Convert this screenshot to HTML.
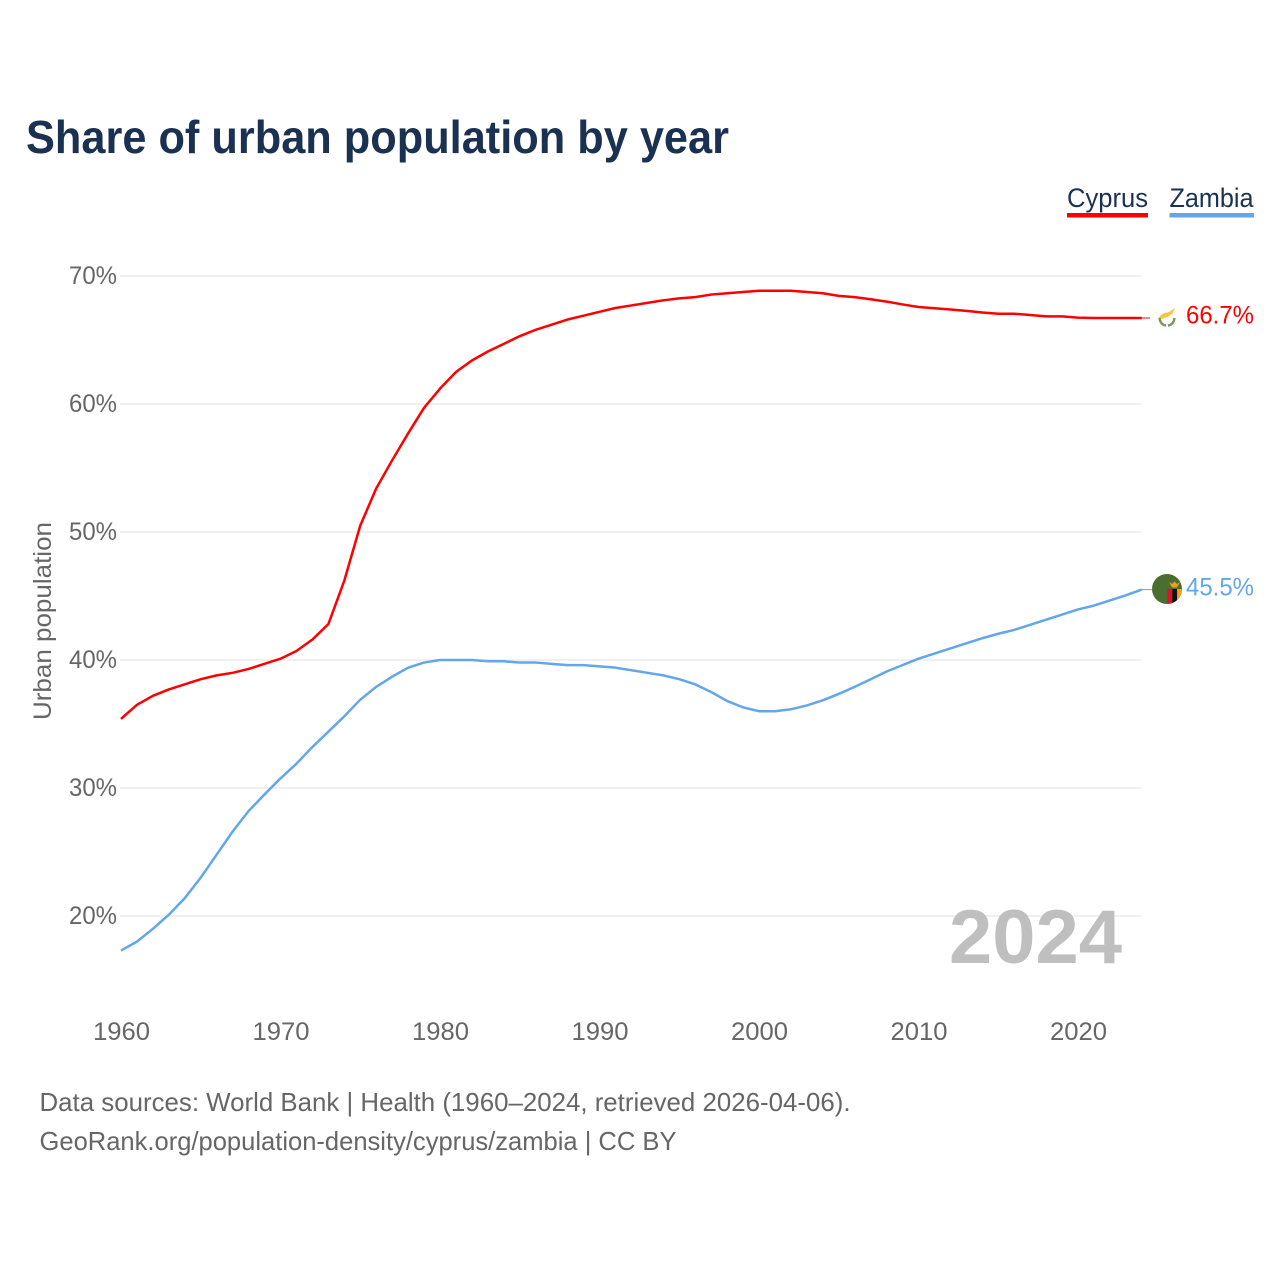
<!DOCTYPE html>
<html lang="en">
<head>
<meta charset="utf-8">
<title>Share of urban population by year</title>
<style>
html,body{margin:0;padding:0;background:#fff;}
svg{display:block;font-family:"Liberation Sans",sans-serif;}
</style>
</head>
<body>
<svg id="chart" width="1280" height="1280" viewBox="0 0 1280 1280" xmlns="http://www.w3.org/2000/svg">
  <rect x="0" y="0" width="1280" height="1280" fill="#ffffff"/>
  <text x="26" y="153" font-size="46" font-weight="700" fill="#1a3152" textLength="703" lengthAdjust="spacingAndGlyphs">Share of urban population by year</text>

  <g>
    <text x="1067" y="207" font-size="27" fill="#1a3152" textLength="81" lengthAdjust="spacingAndGlyphs">Cyprus</text>
    <rect x="1067" y="213" width="81" height="4.5" fill="#ff0000"/>
  </g>
  <g>
    <text x="1169.500" y="207" font-size="27" fill="#1a3152" textLength="84" lengthAdjust="spacingAndGlyphs">Zambia</text>
    <rect x="1169.500" y="213" width="84.500" height="4.5" fill="#62a6ec"/>
  </g>

  <g id="grid"></g>
  <g id="y-ticks"></g>
  <g id="x-ticks"></g>
  <text transform="translate(51,720) rotate(-90)" x="0" y="0" font-size="25" fill="#666666" textLength="198" lengthAdjust="spacingAndGlyphs">Urban population</text>

  <text x="949" y="963" font-size="76" font-weight="700" fill="#bfbfbf" textLength="173" lengthAdjust="spacingAndGlyphs">2024</text>

  <g id="series"></g>

  <defs>
    <clipPath id="zambia-clip"><circle cx="1167" cy="589" r="15"/></clipPath>
  </defs>

  <g>
    <circle cx="1167" cy="317" r="15" fill="#fdfdfd"/>
    <path d="M1158.500 317.500 L1163 313.500 L1169 312 L1175 308 L1172.500 313.500 L1167.500 317 L1162 319 Z" fill="#f6c445"/>
    <path d="M1159.500 318 Q1160.500 325 1166 325.500" fill="none" stroke="#7b9558" stroke-width="2.400"/>
    <path d="M1174.500 318 Q1173.500 325 1168 325.500" fill="none" stroke="#7b9558" stroke-width="2.400"/>
  </g>

  <g clip-path="url(#zambia-clip)">
    <rect x="1150" y="572" width="34" height="34" fill="#4a6e30"/>
    <rect x="1167.300" y="589" width="5" height="17" fill="#d8152f"/>
    <rect x="1172.300" y="589" width="4.800" height="17" fill="#111111"/>
    <rect x="1177.100" y="589" width="5.500" height="17" fill="#f39a24"/>
    <path d="M1169 582 L1172 584 L1174.500 581.500 L1177 584 L1180 582 L1177 587.500 L1172 587.500 Z" fill="#f39a24"/>
  </g>

  <text id="value-label-cyprus" x="1186" y="323.500" font-size="25" fill="#ff0000" textLength="68" lengthAdjust="spacingAndGlyphs"></text>
  <text id="value-label-zambia" x="1186" y="595.500" font-size="25" fill="#62a6ec" textLength="68" lengthAdjust="spacingAndGlyphs"></text>

  <text x="39.500" y="1111" font-size="26" fill="#666666" textLength="811" lengthAdjust="spacingAndGlyphs">Data sources: World Bank | Health (1960–2024, retrieved 2026-04-06).</text>
  <a><text x="39.500" y="1150" font-size="26" fill="#666666" textLength="637" lengthAdjust="spacingAndGlyphs">GeoRank.org/population-density/cyprus/zambia | CC BY</text></a>
</svg>

<script>
var years = [];
var startYear = 1960;
var endYear = 2024;
var cyprusValues = [35.4,36.5,37.2,37.7,38.1,38.5,38.8,39.0,39.3,39.7,40.1,40.7,41.6,42.8,46.2,50.5,53.4,55.6,57.7,59.7,61.2,62.5,63.4,64.1,64.7,65.3,65.8,66.2,66.6,66.9,67.2,67.5,67.7,67.9,68.1,68.25,68.35,68.55,68.65,68.75,68.85,68.85,68.85,68.75,68.65,68.45,68.35,68.18,68.0,67.78,67.58,67.48,67.38,67.28,67.15,67.05,67.05,66.95,66.85,66.85,66.75,66.72,66.72,66.72,66.72];
var zambiaValues = [17.3,18.0,19.0,20.1,21.4,23.0,24.8,26.6,28.2,29.5,30.75,31.9,33.2,34.4,35.6,36.9,37.9,38.7,39.4,39.8,40.0,40.0,40.0,39.9,39.9,39.8,39.8,39.7,39.6,39.6,39.5,39.4,39.2,39.0,38.8,38.5,38.1,37.5,36.8,36.3,36.0,36.0,36.15,36.45,36.85,37.35,37.9,38.5,39.1,39.6,40.1,40.5,40.9,41.3,41.7,42.05,42.35,42.75,43.15,43.55,43.95,44.25,44.65,45.05,45.5];
var yTickValues = [20,30,40,50,60,70];
var xTickValues = [1960,1970,1980,1990,2000,2010,2020];
var cyprusLatest = 66.7;
var zambiaLatest = 45.5;

for (var yr = startYear; yr <= endYear; yr++) { years.push(yr); }

var NS = 'http://www.w3.org/2000/svg';
function xScale(year) { return 121 + (year - 1960) * 15.95; }
function yScale(value) { return 276 + (70 - value) * 12.8; }

var gridGroup = document.getElementById('grid');
var yTickGroup = document.getElementById('y-ticks');
var xTickGroup = document.getElementById('x-ticks');
var seriesGroup = document.getElementById('series');

yTickValues.forEach(function (v) {
  var line = document.createElementNS(NS, 'line');
  
  
  line.setAttribute('x1', 120);
  line.setAttribute('x2', 1141);
  line.setAttribute('y1', yScale(v));
  line.setAttribute('y2', yScale(v));
  line.setAttribute('stroke', '#ececec');
  line.setAttribute('stroke-width', '1.5');
  gridGroup.appendChild(line);

  var label = document.createElementNS(NS, 'text');
  
  
  label.setAttribute('x', 69);
  label.setAttribute('y', yScale(v) + 8);
  label.setAttribute('font-size', '25');
  label.setAttribute('fill', '#666666');
  label.setAttribute('textLength', '48');
  label.setAttribute('lengthAdjust', 'spacingAndGlyphs');
  label.textContent = v + '%';
  yTickGroup.appendChild(label);
});

xTickValues.forEach(function (y) {
  var label = document.createElementNS(NS, 'text');
  
  
  label.setAttribute('x', xScale(y) - 28);
  label.setAttribute('y', 1040);
  label.setAttribute('font-size', '25');
  label.setAttribute('fill', '#666666');
  label.setAttribute('textLength', '57');
  label.setAttribute('lengthAdjust', 'spacingAndGlyphs');
  label.textContent = y;
  xTickGroup.appendChild(label);
});

function pathFor(values) {
  return values.map(function (v, i) {
    return (i === 0 ? 'M' : 'L') + xScale(years[i]).toFixed(2) + ' ' + yScale(v).toFixed(2);
  }).join(' ');
}

var cyprusLine = document.createElementNS(NS, 'path');


cyprusLine.setAttribute('d', pathFor(cyprusValues));
cyprusLine.setAttribute('fill', 'none');
cyprusLine.setAttribute('stroke', '#ff0000');
cyprusLine.setAttribute('stroke-width', '2.5');
cyprusLine.setAttribute('stroke-linejoin', 'round');
seriesGroup.appendChild(cyprusLine);

var zambiaLine = document.createElementNS(NS, 'path');


zambiaLine.setAttribute('d', pathFor(zambiaValues));
zambiaLine.setAttribute('fill', 'none');
zambiaLine.setAttribute('stroke', '#62a6ec');
zambiaLine.setAttribute('stroke-width', '2.5');
zambiaLine.setAttribute('stroke-linejoin', 'round');
seriesGroup.appendChild(zambiaLine);

var cyprusLeader = document.createElementNS(NS, 'line');


cyprusLeader.setAttribute('x1', xScale(endYear));
cyprusLeader.setAttribute('x2', 1150);
cyprusLeader.setAttribute('y1', yScale(cyprusValues[cyprusValues.length - 1]));
cyprusLeader.setAttribute('y2', yScale(cyprusValues[cyprusValues.length - 1]));
cyprusLeader.setAttribute('stroke', '#ff0000');
cyprusLeader.setAttribute('stroke-width', '1');
seriesGroup.appendChild(cyprusLeader);

var zambiaLeader = document.createElementNS(NS, 'line');


zambiaLeader.setAttribute('x1', xScale(endYear));
zambiaLeader.setAttribute('x2', 1152);
zambiaLeader.setAttribute('y1', yScale(zambiaValues[zambiaValues.length - 1]));
zambiaLeader.setAttribute('y2', yScale(zambiaValues[zambiaValues.length - 1]));
zambiaLeader.setAttribute('stroke', '#62a6ec');
zambiaLeader.setAttribute('stroke-width', '1');
seriesGroup.appendChild(zambiaLeader);

document.getElementById('value-label-cyprus').textContent = cyprusLatest.toFixed(1) + '%';
document.getElementById('value-label-zambia').textContent = zambiaLatest.toFixed(1) + '%';
</script>
</body>
</html>
